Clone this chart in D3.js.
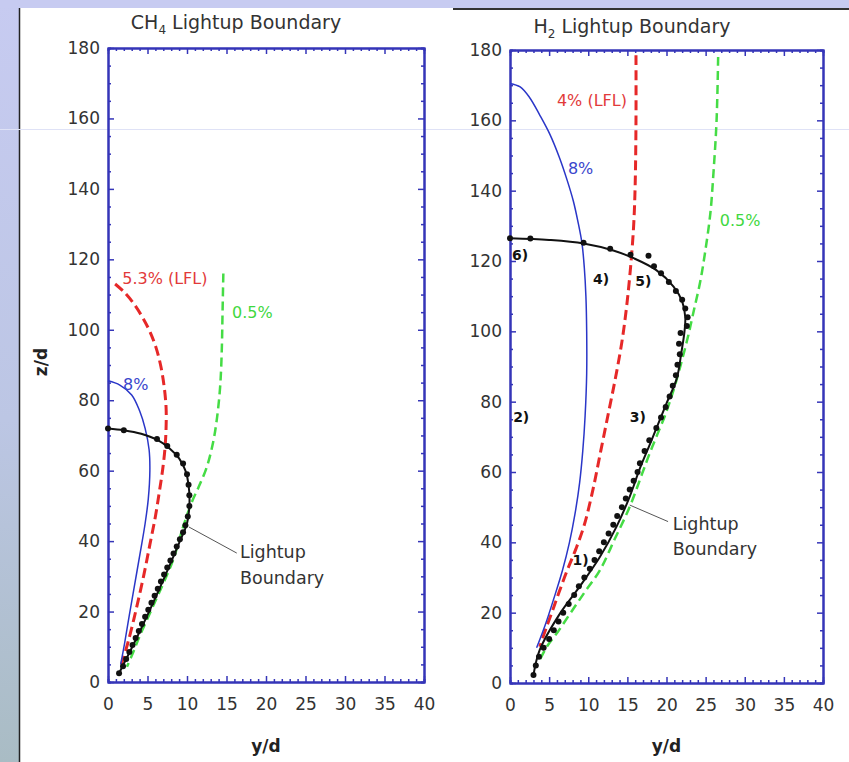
<!DOCTYPE html>
<html>
<head>
<meta charset="utf-8">
<script src="https://cdn.jsdelivr.net/npm/d3@7"></script>
<style>
  body { margin: 0; background: #fff; }
  svg { display: block; font-family: "DejaVu Sans", sans-serif; }
</style>
</head>
<body>
<svg id="canvas"></svg>
<script>
// axis ticks
const xTicks = [0, 5, 10, 15, 20, 25, 30, 35, 40];
const yTicks = [0, 20, 40, 60, 80, 100, 120, 140, 160, 180];

// CH4 panel: [y/d, z/d]
const ch4Boundary = [[1.4, 2.5], [3.3, 11], [5.2, 20], [7.2, 30], [9.1, 40], [10.0, 45], [10.3, 50], [10.2, 56],
  [9.8, 60], [9.0, 63.5], [7.8, 66.3], [6.2, 68.8], [4.2, 70.5], [2.0, 71.5], [0, 72]];
const ch4Dots = [[1.4, 2.5], [1.9, 4.5], [2.3, 6.5], [2.7, 8.5], [3.1, 10.5], [3.5, 12.5], [3.9, 14.5], [4.3, 16.5],
  [4.7, 18.5], [5.1, 20.5], [5.5, 22.5], [5.9, 24.5], [6.3, 26.5], [6.7, 28.5], [7.1, 30.5], [7.5, 32.5],
  [7.9, 34.5], [8.3, 36.5], [8.7, 38.5], [9.1, 40.5], [9.5, 42.5], [9.8, 44.5], [10.1, 47], [10.3, 50],
  [10.3, 53], [10.2, 56], [10.0, 59], [9.5, 62], [8.7, 64.5], [7.5, 67], [6.2, 69], [2.0, 71.5], [0, 72]];
const ch4Blue8 = [[0, 85.5], [1.5, 84.3], [3.0, 81.5], [4.0, 77], [4.7, 72], [5.2, 66], [5.3, 60], [5.1, 52],
  [4.7, 45], [4.1, 37], [3.4, 28], [2.7, 19], [2.1, 11], [1.6, 5]];
const ch4Red53 = [[0.9, 113], [2.0, 110.8], [3.2, 107.6], [4.3, 103.8], [5.3, 99.5], [6.1, 94.8], [6.7, 89.5],
  [7.1, 84], [7.35, 78], [7.35, 72], [7.2, 66], [6.9, 60], [6.5, 54], [6.0, 47], [5.3, 39], [4.5, 30],
  [3.5, 20], [2.5, 11], [1.7, 5]];
const ch4Green05 = [[14.6, 116], [14.5, 105], [14.4, 94], [14.2, 84], [13.8, 75], [13.3, 68], [12.5, 61],
  [11.5, 55.5], [10.6, 51], [9.5, 44], [8.3, 35], [7.2, 29], [6.2, 24], [5.0, 18], [4.0, 13], [3.2, 8.5], [2.4, 4.3]];

// H2 panel: [y/d, z/d]
const h2Boundary = [[3.0, 2.3], [3.8, 9.4], [6.4, 19.8], [8.9, 27.4], [11.5, 35.9], [13.6, 44.4], [15.3, 53],
  [16.6, 61], [17.9, 68], [20.0, 79.5], [21.3, 86.5], [21.9, 94], [22.3, 100], [22.4, 104], [22.0, 108.5],
  [20.9, 112.7], [18.7, 117.4], [15.8, 120.8], [13.2, 123], [9.4, 125], [5.0, 126], [0, 126.5]];
const h2Dots = [[3.0, 2.3], [3.3, 5], [3.7, 7.5], [4.3, 10], [5.0, 12.5], [5.6, 15], [6.2, 17.5], [6.8, 20],
  [7.5, 22.5], [8.2, 25], [8.8, 27.5], [9.5, 30], [10.2, 32.5], [10.8, 35], [11.4, 37.5], [12.0, 40],
  [12.6, 42.5], [13.2, 45], [13.7, 47.5], [14.3, 50], [14.8, 52.5], [15.3, 55], [15.8, 57.5], [16.3, 60],
  [16.6, 62.5], [17.2, 66], [17.8, 69], [18.7, 72.5], [19.3, 75.5], [19.9, 78.5], [20.4, 81.5], [20.8, 84.5],
  [21.2, 87.5], [21.4, 90.5], [21.7, 93.5], [21.6, 96.5], [21.8, 99.5], [22.6, 101.5], [22.7, 104],
  [22.4, 106.5], [22.0, 109], [21.2, 111.5], [20.3, 114], [19.3, 116.5], [18.4, 118.5], [17.7, 121.5],
  [15.4, 121.8], [12.8, 123.5], [9.4, 125.2], [2.6, 126.4], [0, 126.5]];
const h2Blue8 = [[0, 170.5], [1.3, 169.5], [2.5, 166.5], [3.8, 161.5], [5.1, 156], [6.3, 149.5], [7.3, 143],
  [8.1, 137], [8.7, 131], [9.2, 125], [9.5, 118], [9.7, 110], [9.8, 100], [9.8, 88], [9.6, 76], [9.3, 66],
  [8.9, 57], [8.3, 48], [7.6, 40], [6.7, 32], [5.6, 24], [4.5, 16.5], [3.4, 10]];
const h2Red4 = [[16.1, 178.5], [16.1, 160], [16.0, 142], [15.8, 130], [15.4, 118], [14.9, 107], [14.3, 97],
  [13.5, 87], [12.6, 77], [11.6, 66], [10.6, 55], [9.5, 45], [8.4, 38], [7.3, 32], [6.3, 26], [5.5, 21],
  [4.6, 15.5], [3.8, 10.3]];
const h2Green05 = [[26.6, 178], [26.4, 160], [26.0, 145], [25.6, 133.5], [24.9, 122], [24.3, 114], [23.5, 106],
  [22.8, 99], [22.0, 92], [21.0, 84], [19.8, 76], [18.7, 70], [17.8, 65], [16.9, 59.6], [15.3, 50.1],
  [13.4, 41], [11.5, 32.1], [9.6, 26], [7.7, 19.8], [6.1, 14.5], [4.7, 10.3], [3.8, 6.5]];

// labels: text, [y/d, z/d]
const ch4Labels = [
  { text: '5.3% (LFL)', at: [1.8, 113], color: '#e23a3a' },
  { text: '0.5%', at: [15.7, 103.3], color: '#3fd83f' },
  { text: '8%', at: [1.9, 83], color: '#3a46cc' }
];
const h2Labels = [
  { text: '4% (LFL)', at: [6.0, 164], color: '#e23a3a' },
  { text: '8%', at: [7.4, 144.7], color: '#3a46cc' },
  { text: '0.5%', at: [26.8, 130], color: '#3fd83f' }
];
const h2Regions = [
  { text: '6)', at: [0.25, 120.3] },
  { text: '4)', at: [10.6, 113.4] },
  { text: '5)', at: [16.0, 112.9] },
  { text: '2)', at: [0.4, 74.2] },
  { text: '3)', at: [15.3, 74.2] },
  { text: '1)', at: [8.0, 33.6] }
];

const width = 849;
const height = 762;
const axisBlue = '#3535b8';

const svg = d3.select('#canvas')
  .attr('width', width)
  .attr('height', height);

// slide background
const defs = svg.append('defs');
const grad = defs.append('linearGradient')
  .attr('id', 'strip')
  .attr('x1', 0).attr('y1', 0).attr('x2', 0).attr('y2', 1);
grad.append('stop').attr('offset', '0%').attr('stop-color', '#c7cbf1');
grad.append('stop').attr('offset', '55%').attr('stop-color', '#bcc6e4');
grad.append('stop').attr('offset', '100%').attr('stop-color', '#a9bcc4');

svg.append('rect').attr('width', width).attr('height', height).attr('fill', '#fff');
svg.append('rect').attr('width', 19).attr('height', height).attr('fill', 'url(#strip)');
svg.append('rect').attr('width', width).attr('height', 8).attr('fill', '#c7cbf1');
svg.append('line')
  .attr('x1', 19.5).attr('x2', 19.5).attr('y1', 8).attr('y2', height)
  .attr('stroke', '#222').attr('stroke-width', 1.5);
svg.append('line')
  .attr('x1', 453).attr('x2', width).attr('y1', 9).attr('y2', 9)
  .attr('stroke', '#333').attr('stroke-width', 2);
svg.append('line')
  .attr('x1', 0).attr('x2', width).attr('y1', 129.5).attr('y2', 129.5)
  .attr('stroke', '#dfe2f6').attr('stroke-width', 1);

const panels = [
  {
    x0: 108, x1: 424, y0: 682, y1: 48,
    title: 'CH', sub: '4', titleX: 236, titleY: 29,
    boundary: ch4Boundary, dots: ch4Dots, blue: ch4Blue8, red: ch4Red53, green: ch4Green05,
    labels: ch4Labels, regions: [],
    note: [16.7, 35.2], noteGap: 26, leader: [[10.25, 44], [16.3, 36.6]],
    yTitle: true
  },
  {
    x0: 510, x1: 823, y0: 683, y1: 50,
    title: 'H', sub: '2', titleX: 632, titleY: 33,
    boundary: h2Boundary, dots: h2Dots, blue: h2Blue8, red: h2Red4, green: h2Green05,
    labels: h2Labels, regions: h2Regions,
    note: [20.8, 43.5], noteGap: 25, leader: [[15.3, 50.6], [20.2, 45.9]],
    yTitle: false
  }
];

const styleAxis = (g, withText) => {
  g.select('.domain').attr('stroke', axisBlue).attr('stroke-width', 2);
  g.selectAll('.tick line').attr('stroke', axisBlue).attr('stroke-width', 1.5);
  if (withText) {
    g.selectAll('.tick text')
      .attr('fill', '#333')
      .style('font-size', '17px')
      .style('font-family', '"DejaVu Sans", sans-serif');
  } else {
    g.selectAll('.tick text').remove();
  }
};

const drawPanel = (p) => {
  const xScale = d3.scaleLinear().domain([0, 40]).range([p.x0, p.x1]);
  const yScale = d3.scaleLinear().domain([0, 180]).range([p.y0, p.y1]);

  const xMinor = d3.range(0, 41, 1).filter(v => v % 5 !== 0);
  const yMinor = d3.range(0, 181, 5).filter(v => v % 20 !== 0);

  const g = svg.append('g');

  // minor ticks on all four sides
  g.append('g').attr('transform', 'translate(0,' + p.y0 + ')')
    .call(d3.axisBottom(xScale).tickValues(xMinor).tickSize(-3).tickFormat(''))
    .call(a => styleAxis(a, false));
  g.append('g').attr('transform', 'translate(0,' + p.y1 + ')')
    .call(d3.axisTop(xScale).tickValues(xMinor).tickSize(-3).tickFormat(''))
    .call(a => styleAxis(a, false));
  g.append('g').attr('transform', 'translate(' + p.x0 + ',0)')
    .call(d3.axisLeft(yScale).tickValues(yMinor).tickSize(-3).tickFormat(''))
    .call(a => styleAxis(a, false));
  g.append('g').attr('transform', 'translate(' + p.x1 + ',0)')
    .call(d3.axisRight(yScale).tickValues(yMinor).tickSize(-3).tickFormat(''))
    .call(a => styleAxis(a, false));

  // major ticks
  g.append('g').attr('transform', 'translate(0,' + p.y0 + ')')
    .call(d3.axisBottom(xScale).tickValues(xTicks).tickSizeInner(-6).tickSizeOuter(0).tickPadding(16))
    .call(a => styleAxis(a, true));
  g.append('g').attr('transform', 'translate(0,' + p.y1 + ')')
    .call(d3.axisTop(xScale).tickValues(xTicks).tickSizeInner(-6).tickSizeOuter(0))
    .call(a => styleAxis(a, false));
  g.append('g').attr('transform', 'translate(' + p.x0 + ',0)')
    .call(d3.axisLeft(yScale).tickValues(yTicks).tickSizeInner(-6).tickSizeOuter(0).tickPadding(8))
    .call(a => styleAxis(a, true));
  g.append('g').attr('transform', 'translate(' + p.x1 + ',0)')
    .call(d3.axisRight(yScale).tickValues(yTicks).tickSizeInner(-6).tickSizeOuter(0))
    .call(a => styleAxis(a, false));

  const line = d3.line()
    .x(d => xScale(d[0]))
    .y(d => yScale(d[1]))
    .curve(d3.curveCatmullRom.alpha(0.5));

  g.append('path').datum(p.green)
    .attr('d', line).attr('fill', 'none')
    .attr('stroke', '#45dc45').attr('stroke-width', 2.5)
    .attr('stroke-dasharray', '9,5');
  g.append('path').datum(p.red)
    .attr('d', line).attr('fill', 'none')
    .attr('stroke', '#e62828').attr('stroke-width', 3)
    .attr('stroke-dasharray', '10,5');
  g.append('path').datum(p.blue)
    .attr('d', line).attr('fill', 'none')
    .attr('stroke', '#2a36c8').attr('stroke-width', 1.5);
  g.append('path').datum(p.boundary)
    .attr('d', line).attr('fill', 'none')
    .attr('stroke', '#111').attr('stroke-width', 2);

  g.selectAll('circle.dot')
    .data(p.dots)
    .enter()
    .append('circle')
    .attr('class', 'dot')
    .attr('cx', d => xScale(d[0]))
    .attr('cy', d => yScale(d[1]))
    .attr('r', 3)
    .attr('fill', '#111');

  // curve labels
  g.selectAll('text.curve-label')
    .data(p.labels)
    .enter()
    .append('text')
    .attr('class', 'curve-label')
    .attr('x', d => xScale(d.at[0]))
    .attr('y', d => yScale(d.at[1]))
    .attr('fill', d => d.color)
    .style('font-size', '16px')
    .text(d => d.text);

  g.selectAll('text.region')
    .data(p.regions)
    .enter()
    .append('text')
    .attr('class', 'region')
    .attr('x', d => xScale(d.at[0]))
    .attr('y', d => yScale(d.at[1]))
    .attr('fill', '#111')
    .style('font-size', '14px')
    .style('font-weight', 'bold')
    .text(d => d.text);

  // lightup boundary annotation
  g.append('line')
    .attr('x1', xScale(p.leader[0][0])).attr('y1', yScale(p.leader[0][1]))
    .attr('x2', xScale(p.leader[1][0])).attr('y2', yScale(p.leader[1][1]))
    .attr('stroke', '#555').attr('stroke-width', 1);
  const note = g.append('text')
    .attr('x', xScale(p.note[0]))
    .attr('y', yScale(p.note[1]))
    .attr('fill', '#333')
    .style('font-size', '17.5px');
  note.append('tspan').text('Lightup');
  note.append('tspan')
    .attr('x', xScale(p.note[0]))
    .attr('dy', p.noteGap)
    .text('Boundary');

  // title
  const title = svg.append('text')
    .attr('x', p.titleX)
    .attr('y', p.titleY)
    .attr('text-anchor', 'middle')
    .attr('fill', '#333')
    .style('font-size', '19px');
  title.append('tspan').text(p.title);
  title.append('tspan').attr('dy', 5).style('font-size', '12px').text(p.sub);
  title.append('tspan').attr('dy', -5).text(' Lightup Boundary');

  // axis titles
  svg.append('text')
    .attr('x', (p.x0 + p.x1) / 2)
    .attr('y', 752)
    .attr('text-anchor', 'middle')
    .attr('fill', '#222')
    .style('font-size', '17px')
    .style('font-weight', 'bold')
    .text('y/d');

  if (p.yTitle) {
    svg.append('text')
      .attr('transform', 'translate(47,362) rotate(-90)')
      .attr('text-anchor', 'middle')
      .attr('fill', '#222')
      .style('font-size', '17px')
      .style('font-weight', 'bold')
      .text('z/d');
  }
};

panels.forEach(drawPanel);
</script>
</body>
</html>
